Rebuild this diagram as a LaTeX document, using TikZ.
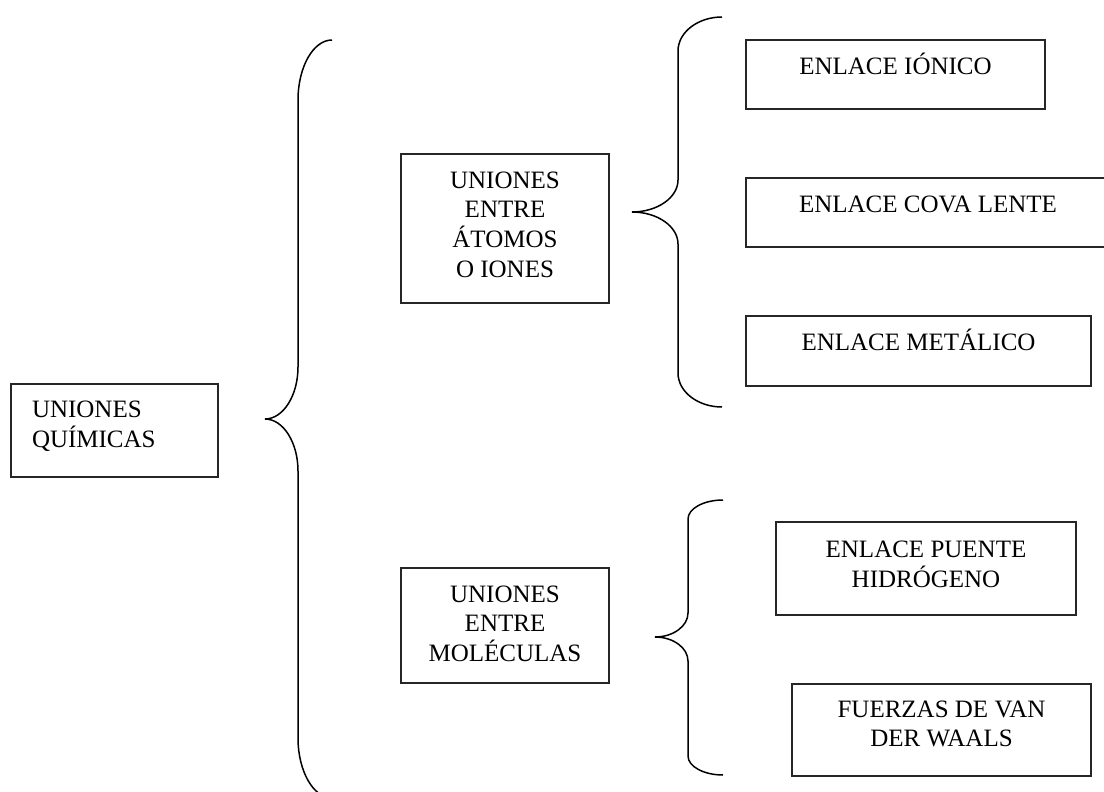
\documentclass[tikz,border=0pt]{standalone}
\usepackage{fontspec}
\setmainfont{Liberation Serif}

% lines of a box label, first baseline raised by #2 above the box centre
\newcommand{\boxlines}[3]{\raisebox{#2}[0pt][0pt]{\begin{tabular}[t]{@{}#1@{}}#3\end{tabular}}}

% curly brace with long straight stems:
% #1 end x, #2 stem x, #3 tip x, #4 top y, #5 tip y, #6 bottom y,
% #7 bend height at the ends, #8 bend height at the tip
\newcommand{\wordbrace}[8]{%
  \draw[bracestroke] (#1,#4) .. controls ({#2+0.45*(#1-#2)},#4) and (#2,{#4+0.45*#7}) .. (#2,{#4+#7})
    -- (#2,{#5-#8}) .. controls (#2,{#5-0.45*#8}) and ({#3+0.55*(#2-#3)},#5) .. (#3,#5)
    .. controls ({#3+0.55*(#2-#3)},#5) and (#2,{#5+0.45*#8}) .. (#2,{#5+#8})
    -- (#2,{#6-#7}) .. controls (#2,{#6-0.45*#7}) and ({#2+0.45*(#1-#2)},#6) .. (#1,#6);}

\tikzset{
  box/.style={draw=black!85, line width=1.4pt, rectangle, inner sep=0pt,
              font=\fontsize{25}{29.5}\selectfont},
  bracestroke/.style={draw=black, line width=1.5pt}
}

\begin{document}
\begin{tikzpicture}[x=1pt, y=-1pt]
  \useasboundingbox (0,0) rectangle (1104,792);
  \clip (0,0) rectangle (1104,792);

  % root
  \node[box, minimum width=207pt, minimum height=93pt] (quim) at (114.5,430.5)
    {\makebox[165pt][l]{\boxlines{l}{13.5pt}{UNIONES\\QUÍMICAS}}};

  % first level
  \node[box, minimum width=208pt, minimum height=149pt] (atom) at (505,228.5)
    {\boxlines{c}{40.5pt}{UNIONES\\ENTRE\\ÁTOMOS\\O IONES\hspace{0.25em}}};
  \node[box, minimum width=208pt, minimum height=115pt] (molec) at (505,625.5)
    {\boxlines{c}{23.5pt}{UNIONES\\ENTRE\\MOLÉCULAS}};

  % bonds between atoms or ions
  \node[box, minimum width=299pt, minimum height=69pt] (ionic) at (895.5,74.5)
    {\boxlines{c}{0.5pt}{ENLACE IÓNICO}};
  \node[box, minimum width=364pt, minimum height=69pt] (coval) at (928,212.5)
    {\boxlines{c}{0.5pt}{ENLACE COVA LENTE}};
  \node[box, minimum width=345pt, minimum height=70pt] (metal) at (918.5,351)
    {\boxlines{c}{1pt}{ENLACE METÁLICO}};

  % forces between molecules
  \node[box, minimum width=300pt, minimum height=93pt] (hydro) at (926,568.5)
    {\boxlines{c}{11.5pt}{ENLACE PUENTE\\HIDRÓGENO}};
  \node[box, minimum width=299pt, minimum height=92pt] (vdw) at (941.5,730)
    {\boxlines{c}{13pt}{FUERZAS DE VAN\\DER WAALS}};

  % braces
  \wordbrace{332}{298}{265}{40}{419}{798}{60}{52}
  \wordbrace{722}{678}{632}{17}{212}{407}{34}{32}
  \wordbrace{723}{688}{655}{500}{637}{775}{19}{24}
\end{tikzpicture}
\end{document}
